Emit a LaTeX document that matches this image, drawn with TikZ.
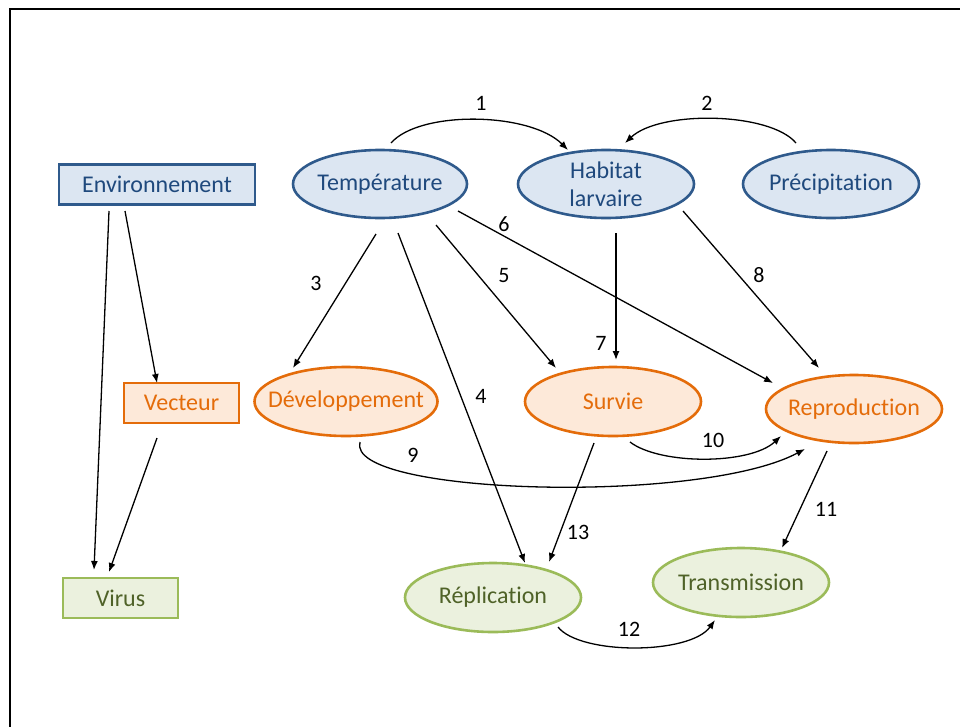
\documentclass[tikz,border=0pt]{standalone}
\usepackage{fontspec}
\setmainfont{Carlito}[Ligatures={NoCommon}]
\usetikzlibrary{arrows.meta,shapes.geometric,calc}
\definecolor{bluefill}{HTML}{DCE6F2}
\definecolor{blueline}{HTML}{2F5A8C}
\definecolor{bluetext}{HTML}{1F497D}
\definecolor{orfill}{HTML}{FDE9D9}
\definecolor{orline}{HTML}{E46C0A}
\definecolor{ortext}{HTML}{E46C0A}
\definecolor{grfill}{HTML}{EBF1DE}
\definecolor{grline}{HTML}{9BBB59}
\definecolor{grtext}{HTML}{4F6228}
\begin{document}
\begin{tikzpicture}[x=1pt,y=-1pt,
  base/.style={font=\fontsize{24}{28}\selectfont, line width=2.6pt},
  ell/.style={base, ellipse, draw, minimum width=176pt, minimum height=68pt, inner xsep=-30pt, inner ysep=-3pt},
  box/.style={base, rectangle, draw, minimum height=40pt, inner sep=0pt, line width=2.8pt},
  bluenode/.style={fill=bluefill, draw=blueline, text=bluetext},
  orangenode/.style={fill=orfill, draw=orline, text=ortext},
  greennode/.style={fill=grfill, draw=grline, text=grtext},
  arr/.style={line width=1.3pt, -{Latex[length=9pt,width=7pt]}},
  num/.style={font=\fontsize{22}{26}\selectfont, inner sep=0pt}]
\useasboundingbox (0,0) rectangle (960,726);
\clip (0,0) rectangle (960,726);
\draw[line width=2pt] (10,9) rectangle (1000,800);

% nodes
\node[box, bluenode, minimum width=196pt] (env) at (157,184.5) {Environnement};
\node[ell, bluenode, minimum width=174pt] (temp) at (380,184) {Température};
\node[ell, bluenode, align=center] (hab) at (606,184) {Habitat\\larvaire};
\node[ell, bluenode] (prec) at (831,184) {Précipitation};
\node[box, orangenode, minimum width=115pt] (vec) at (181.5,403) {Vecteur};
\node[ell, orangenode, minimum width=183pt, minimum height=69pt] (dev) at (346,401.5) {Développement};
\node[ell, orangenode, minimum height=69pt] (surv) at (613,401.5) {Survie};
\node[ell, orangenode] (repro) at (854,409) {Reproduction};
\node[box, greennode, minimum width=115pt] (virus) at (120.5,598) {Virus};
\node[ell, greennode, minimum height=69pt] (repl) at (493,597.5) {Réplication};
\node[ell, greennode, minimum height=69pt] (trans) at (741,582.5) {Transmission};

% connectors
\draw[arr] ($(temp)+(11,-41)$) .. controls (420,110) and (530,112) .. ($(hab)+(-38,-34)$);
\draw[arr] ($(prec)+(-35,-41)$) .. controls (770,112) and (660,110) .. ($(hab)+(19,-41)$);
\draw[arr] ($(temp)+(-4,50)$) -- ($(dev)+(-53,-33.5)$);
\draw[arr] ($(temp)+(18,49)$) -- ($(repl)+(32,-34.5)$);
\draw[arr] ($(temp)+(56,41)$) -- ($(surv)+(-57,-33.5)$);
\draw[arr] ($(temp)+(78,27)$) -- ($(repro)+(-81,-26)$);
\draw[arr] ($(hab)+(10,49)$) -- ($(surv)+(3,-41.5)$);
\draw[arr] ($(hab)+(77,27)$) -- ($(repro)+(-35,-41)$);
\draw[arr] ($(dev)+(14,40.5)$) .. controls (345,495) and (700,505) .. ($(repro)+(-49,40)$);
\draw[arr] ($(surv)+(17,40.5)$) .. controls (660,465) and (750,465) .. ($(repro)+(-73,27)$);
\draw[arr] ($(repro)+(-27,42)$) -- ($(trans)+(41,-34.5)$);
\draw[arr] ($(repl)+(65,29.5)$) .. controls (580,655) and (690,655) .. ($(trans)+(-26,37.5)$);
\draw[arr] ($(surv)+(-19,41.5)$) -- ($(repl)+(56,-35.5)$);
\draw[arr] ($(env)+(-48,26.5)$) -- ($(virus)+(-26.5,-28)$);
\draw[arr] ($(env)+(-32,26.5)$) -- ($(vec)+(-24.5,-20)$);
\draw[arr] ($(vec)+(-24.5,35)$) -- ($(virus)+(-11.5,-26)$);

% labels
\node[num] (n1) at (481,103) {1};
\node[num] (n2) at (707,103) {2};
\node[num] (n3) at (316,283) {3};
\node[num] (n4) at (481,396) {4};
\node[num] (n5) at (504,276) {5};
\node[num] (n6) at (504,224) {6};
\node[num] (n7) at (601,343) {7};
\node[num] (n8) at (759,275) {8};
\node[num] (n9) at (413,455) {9};
\node[num] (n10) at (713,440) {10};
\node[num] (n11) at (826,509) {11};
\node[num] (n12) at (629,629) {12};
\node[num] (n13) at (578,532) {13};
\end{tikzpicture}
\end{document}
